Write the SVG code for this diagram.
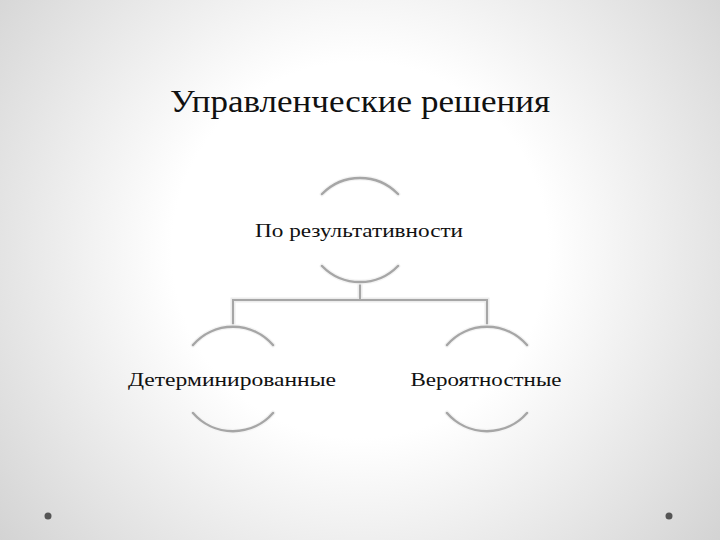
<svg xmlns="http://www.w3.org/2000/svg" width="720" height="540" viewBox="0 0 720 540">
<defs>
<radialGradient id="bg" cx="360" cy="250" r="470" gradientUnits="userSpaceOnUse">
<stop offset="0" stop-color="#ffffff"/>
<stop offset="0.4" stop-color="#ffffff"/>
<stop offset="1" stop-color="#d2d2d2"/>
</radialGradient>
<style>
.t{font-family:"Liberation Serif","DejaVu Serif",serif;fill:#111;text-anchor:middle}
.halo{fill:none;stroke:#f4f4f4;stroke-width:5;stroke-linecap:round}
.arc{fill:none;stroke:#a6a6a6;stroke-width:2.5;stroke-linecap:round}
.ln{fill:none;stroke:#a6a6a6;stroke-width:2}
.lnh{fill:none;stroke:#ececec;stroke-width:5}
</style>
</defs>
<rect width="720" height="540" fill="url(#bg)"/>
<circle cx="48" cy="516" r="3.5" fill="#555"/>
<circle cx="669" cy="516" r="3.5" fill="#555"/>
<text class="t" x="360" y="112" font-size="31" textLength="380" lengthAdjust="spacingAndGlyphs">Управленческие решения</text>
<g id="connectors">
<path class="lnh" d="M360 282V300M233 325V300H487V325"/>
<path class="ln" d="M360 282V300M233 325V300H487V325"/>
</g>
<g id="node-top">
<path class="halo" d="M322 194A53 53 0 0 1 398 194M322 266A53 53 0 0 0 398 266"/>
<path class="arc" d="M322 194A53 53 0 0 1 398 194M322 266A53 53 0 0 0 398 266"/>
<text class="t" x="359" y="237" font-size="19" textLength="208" lengthAdjust="spacingAndGlyphs">По результативности</text>
</g>
<g id="node-left">
<path class="halo" d="M193 345A53 53 0 0 1 273 345M193 413A53 53 0 0 0 273 413"/>
<path class="arc" d="M193 345A53 53 0 0 1 273 345M193 413A53 53 0 0 0 273 413"/>
<text class="t" x="232" y="386" font-size="19" textLength="208" lengthAdjust="spacingAndGlyphs">Детерминированные</text>
</g>
<g id="node-right">
<path class="halo" d="M447 345A53 53 0 0 1 527 345M447 413A53 53 0 0 0 527 413"/>
<path class="arc" d="M447 345A53 53 0 0 1 527 345M447 413A53 53 0 0 0 527 413"/>
<text class="t" x="486" y="386" font-size="19" textLength="151" lengthAdjust="spacingAndGlyphs">Вероятностные</text>
</g>
</svg>
